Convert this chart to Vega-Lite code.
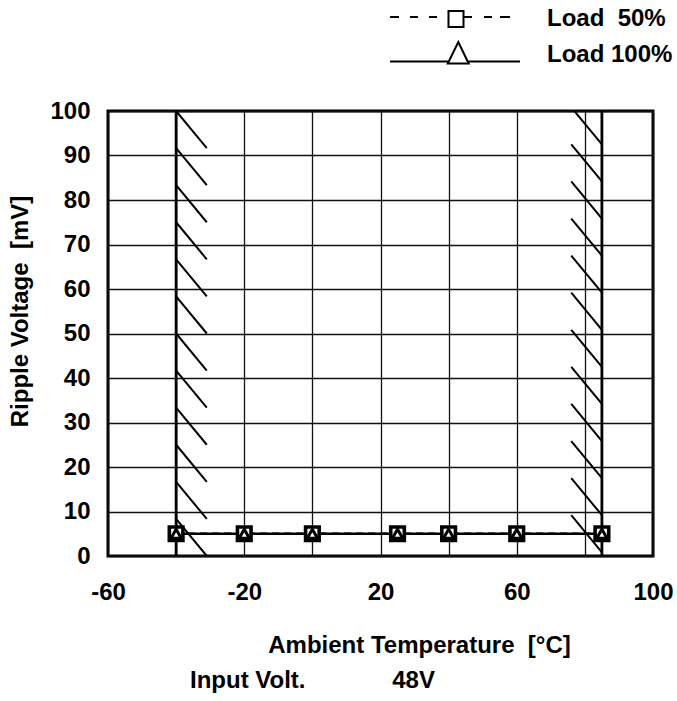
{
  "$schema": "https://vega.github.io/schema/vega-lite/v6.json",
  "width": 545,
  "height": 445,
  "autosize": "none",
  "padding": {"left": 108, "top": 111, "right": 24, "bottom": 145},
  "background": "white",
  "config": {
    "font": "Liberation Sans",
    "view": {"stroke": "black", "strokeWidth": 3},
    "axis": {
      "grid": true,
      "gridColor": "#111111",
      "gridWidth": 1.3,
      "gridOpacity": 1,
      "ticks": false,
      "domain": false,
      "labelFont": "Liberation Sans",
      "labelFontSize": 24,
      "labelFontWeight": "bold",
      "labelColor": "black",
      "labelFlush": false,
      "labelOverlap": false,
      "titleFont": "Liberation Sans",
      "titleFontSize": 24,
      "titleFontWeight": "bold",
      "titleColor": "black"
    }
  },
  "title": {
    "text": "Input Volt.\u00a0\u00a0\u00a0\u00a0\u00a0\u00a0\u00a0\u00a0\u00a0\u00a0\u00a0\u00a0\u00a048V",
    "orient": "bottom",
    "anchor": "start",
    "frame": "group",
    "dx": 82,
    "offset": 12,
    "font": "Liberation Sans",
    "fontSize": 24,
    "fontWeight": "bold",
    "color": "black"
  },
  "datasets": {
    "ripple": [
      {"temp": -40, "ripple": 5, "load": "Load 50%"},
      {"temp": -20, "ripple": 5, "load": "Load 50%"},
      {"temp": 0, "ripple": 5, "load": "Load 50%"},
      {"temp": 25, "ripple": 5, "load": "Load 50%"},
      {"temp": 40, "ripple": 5, "load": "Load 50%"},
      {"temp": 60, "ripple": 5, "load": "Load 50%"},
      {"temp": 85, "ripple": 5, "load": "Load 50%"},
      {"temp": -40, "ripple": 5, "load": "Load 100%"},
      {"temp": -20, "ripple": 5, "load": "Load 100%"},
      {"temp": 0, "ripple": 5, "load": "Load 100%"},
      {"temp": 25, "ripple": 5, "load": "Load 100%"},
      {"temp": 40, "ripple": 5, "load": "Load 100%"},
      {"temp": 60, "ripple": 5, "load": "Load 100%"},
      {"temp": 85, "ripple": 5, "load": "Load 100%"}
    ],
    "limits": [
      {"temp": -40},
      {"temp": 85}
    ],
    "hatch": [
      {"x": -40, "y": 100, "x2": -31, "y2": 91.67},
      {"x": -40, "y": 91.67, "x2": -31, "y2": 83.33},
      {"x": -40, "y": 83.33, "x2": -31, "y2": 75},
      {"x": -40, "y": 75, "x2": -31, "y2": 66.67},
      {"x": -40, "y": 66.67, "x2": -31, "y2": 58.33},
      {"x": -40, "y": 58.33, "x2": -31, "y2": 50},
      {"x": -40, "y": 50, "x2": -31, "y2": 41.67},
      {"x": -40, "y": 41.67, "x2": -31, "y2": 33.33},
      {"x": -40, "y": 33.33, "x2": -31, "y2": 25},
      {"x": -40, "y": 25, "x2": -31, "y2": 16.67},
      {"x": -40, "y": 16.67, "x2": -31, "y2": 8.33},
      {"x": -40, "y": 8.33, "x2": -31, "y2": 0},
      {"x": 76, "y": 100.83, "x2": 85, "y2": 92.5},
      {"x": 76, "y": 92.5, "x2": 85, "y2": 84.17},
      {"x": 76, "y": 84.17, "x2": 85, "y2": 75.83},
      {"x": 76, "y": 75.83, "x2": 85, "y2": 67.5},
      {"x": 76, "y": 67.5, "x2": 85, "y2": 59.17},
      {"x": 76, "y": 59.17, "x2": 85, "y2": 50.83},
      {"x": 76, "y": 50.83, "x2": 85, "y2": 42.5},
      {"x": 76, "y": 42.5, "x2": 85, "y2": 34.17},
      {"x": 76, "y": 34.17, "x2": 85, "y2": 25.83},
      {"x": 76, "y": 25.83, "x2": 85, "y2": 17.5},
      {"x": 76, "y": 17.5, "x2": 85, "y2": 9.17},
      {"x": 76, "y": 9.17, "x2": 85, "y2": 0.83}
    ]
  },
  "layer": [
    {
      "data": {"name": "hatch"},
      "mark": {"type": "rule", "color": "black", "strokeWidth": 2, "clip": true},
      "encoding": {
        "x": {
          "field": "x",
          "type": "quantitative",
          "scale": {"domain": [-60, 100], "nice": false, "zero": false},
          "axis": {
            "values": [-60, -40, -20, 0, 20, 40, 60, 80, 100],
            "labelExpr": "(datum.value + 60) % 40 == 0 ? toString(datum.value) : ''",
            "labelPadding": 24,
            "title": "Ambient Temperature\u00a0 [°C]",
            "titleX": 311,
            "titleY": 96,
            "titleAlign": "center",
            "titleBaseline": "alphabetic"
          }
        },
        "y": {
          "field": "y",
          "type": "quantitative",
          "scale": {"domain": [0, 100], "nice": false, "zero": false},
          "axis": {
            "values": [0, 5, 10, 15, 20, 25, 30, 35, 40, 45, 50, 55, 60, 65, 70, 75, 80, 85, 90, 95, 100],
            "labelExpr": "datum.value % 10 == 0 ? toString(datum.value) : ''",
            "labelPadding": 18,
            "title": "Ripple Voltage\u00a0 [mV]",
            "titleX": -88,
            "titleY": 200,
            "titleAlign": "center",
            "titleBaseline": "middle"
          }
        },
        "x2": {"field": "x2"},
        "y2": {"field": "y2"}
      }
    },
    {
      "data": {"name": "limits"},
      "mark": {"type": "rule", "color": "black", "strokeWidth": 2.8},
      "encoding": {
        "x": {"field": "temp", "type": "quantitative"}
      }
    },
    {
      "data": {"name": "ripple"},
      "transform": [{"filter": "datum.load == 'Load 50%'"}],
      "mark": {"type": "line", "color": "black", "strokeWidth": 2.5, "strokeDash": [7, 5]},
      "encoding": {
        "x": {"field": "temp", "type": "quantitative"},
        "y": {"field": "ripple", "type": "quantitative"}
      }
    },
    {
      "data": {"name": "ripple"},
      "transform": [{"filter": "datum.load == 'Load 100%'"}],
      "mark": {"type": "line", "color": "black", "strokeWidth": 2.5},
      "encoding": {
        "x": {"field": "temp", "type": "quantitative"},
        "y": {"field": "ripple", "type": "quantitative"}
      }
    },
    {
      "data": {"name": "ripple"},
      "transform": [{"filter": "datum.load == 'Load 50%'"}],
      "mark": {"type": "point", "shape": "square", "size": 185, "filled": false, "fill": "white", "fillOpacity": 1, "stroke": "black", "strokeWidth": 3.6, "opacity": 1},
      "encoding": {
        "x": {"field": "temp", "type": "quantitative"},
        "y": {"field": "ripple", "type": "quantitative"}
      }
    },
    {
      "data": {"name": "ripple"},
      "transform": [{"filter": "datum.load == 'Load 100%'"}],
      "mark": {"type": "point", "shape": "triangle-up", "size": 105, "filled": false, "stroke": "black", "strokeWidth": 3, "opacity": 1},
      "encoding": {
        "x": {"field": "temp", "type": "quantitative"},
        "y": {"field": "ripple", "type": "quantitative"}
      }
    },
    {
      "data": {"name": "ripple"},
      "transform": [{"filter": "false"}],
      "mark": {"type": "point", "filled": false, "color": "black", "opacity": 1},
      "encoding": {
        "x": {"field": "temp", "type": "quantitative"},
        "y": {"field": "ripple", "type": "quantitative"},
        "shape": {
          "field": "load",
          "type": "nominal",
          "scale": {
            "domain": ["Load 50%", "Load 100%"],
            "range": [
              "M-6.5,-0.2H-5.6M-4.5,-0.2H-3.7M-2.6,-0.2H-1.8M0.85,-0.2H1.7M2.9,-0.2H3.7M4.5,-0.2H5.5M-0.65,-0.8H0.85V0.8H-0.65Z",
              "M-6.5,0.65H-0.62M1.27,0.65H6.5M0.33,-1.3L1.37,0.85H-0.72Z"
            ]
          },
          "legend": {
            "orient": "none",
            "legendX": 335,
            "legendY": -104,
            "title": null,
            "padding": 0,
            "rowPadding": 7,
            "symbolSize": 400,
            "symbolStrokeWidth": 2,
            "symbolStrokeColor": "black",
            "symbolFillColor": "white",
            "labelFont": "Liberation Sans",
            "labelFontSize": 24,
            "labelFontWeight": "bold",
            "labelColor": "black",
            "labelOffset": 80,
            "labelExpr": "datum.value == 'Load 50%' ? 'Load\u00a0 50%' : datum.value"
          }
        }
      }
    }
  ]
}
